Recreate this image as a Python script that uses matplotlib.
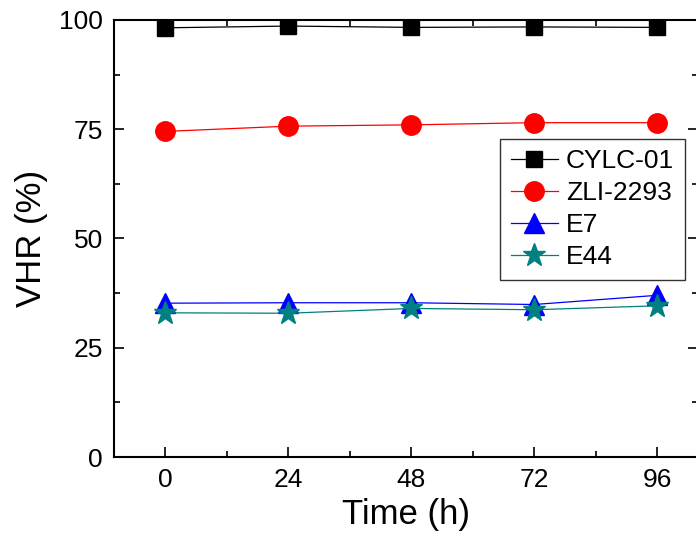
import matplotlib
matplotlib.use("Agg")
import matplotlib.pyplot as plt
from matplotlib.ticker import MultipleLocator

plt.rcParams["font.family"] = ["Liberation Sans", "DejaVu Sans"]

# data
time_h = [0, 24, 48, 72, 96]
cylc01 = [98.2, 98.6, 98.3, 98.4, 98.3]
zli2293 = [74.5, 75.7, 76.0, 76.5, 76.5]
e7 = [35.2, 35.3, 35.3, 34.9, 37.0]
e44 = [33.0, 32.9, 34.0, 33.7, 34.6]

fig = plt.figure(figsize=(6.96, 5.54), dpi=100)
ax = fig.add_axes([0.164, 0.175, 0.839, 0.789])

ax.plot(time_h, cylc01, color="black", lw=0.9, marker="s", ms=12, label="CYLC-01")
ax.plot(time_h, zli2293, color="red", lw=0.9, marker="o", ms=14, label="ZLI-2293")
ax.plot(time_h, e7, color="blue", lw=0.9, marker="^", ms=14, label="E7")
ax.plot(time_h, e44, color="#008080", lw=0.9, marker="*", ms=17, label="E44")

ax.set_xlim(-10, 104)
ax.set_ylim(0, 100)
ax.set_xticks(time_h)
ax.set_yticks([0, 25, 50, 75, 100])
ax.xaxis.set_minor_locator(MultipleLocator(12))
ax.yaxis.set_minor_locator(MultipleLocator(12.5))
ax.tick_params(which="both", direction="in", top=True, right=True, width=1.2)
ax.tick_params(which="major", length=7, labelsize=19, pad=8)
ax.tick_params(which="minor", length=4)
for s in ax.spines.values():
    s.set_linewidth(1.5)

ax.set_xlabel("Time (h)", fontsize=25, labelpad=4)
ax.set_ylabel("VHR (%)", fontsize=25, labelpad=8)

leg = ax.legend(loc="upper left", bbox_to_anchor=(0.661, 0.728), borderaxespad=0,
                fontsize=19, frameon=True, fancybox=False, edgecolor="black",
                handlelength=1.8, borderpad=0.4, labelspacing=0.3,
                handletextpad=0.3)
leg.get_frame().set_linewidth(1.0)

fig.savefig("out.png", dpi=100)
